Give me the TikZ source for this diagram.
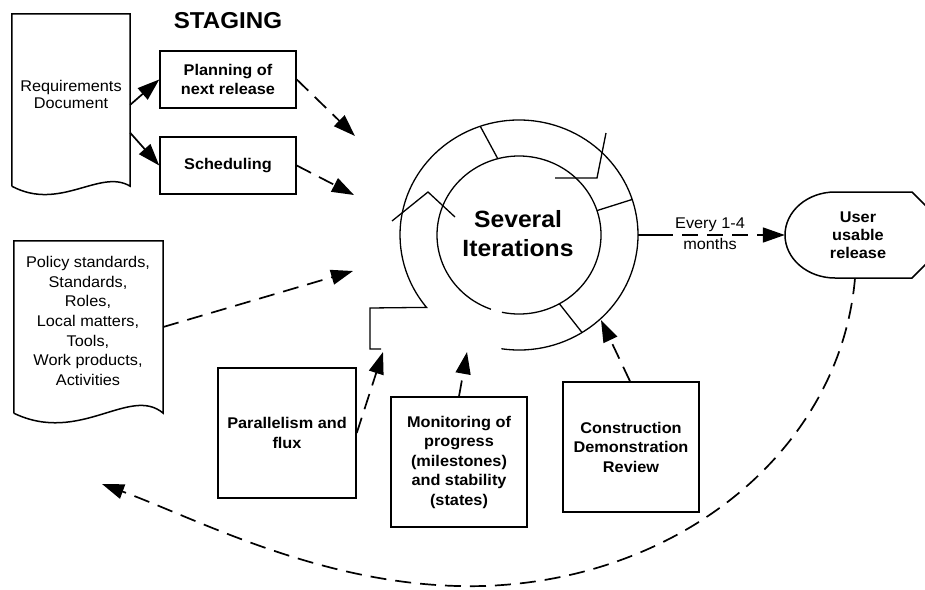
\documentclass[tikz,border=0pt]{standalone}
\usepackage{fontspec}
\setmainfont{Liberation Sans}[FakeStretch=1.05]
\usetikzlibrary{arrows.meta,calc}
\tikzset{
  box/.style={draw, line width=1.5pt, minimum width=136pt, minimum height=57pt, inner sep=0pt, align=center, font=\bfseries\fontsize{15.5}{19.5}\selectfont},
  ghost/.style={inner sep=0pt, draw=none},
  lbl/.style={align=center, inner sep=0pt, font=\fontsize{15.5}{19.5}\selectfont},
  blbl/.style={align=center, inner sep=0pt, font=\bfseries\fontsize{15.5}{18}\selectfont},
  ring/.style={line width=1.3pt},
  outline/.style={line width=1.5pt},
  tip/.style={-{Triangle[length=22pt,width=15pt]}},
  dsh/.style={dash pattern=on 16pt off 9pt},
  conn/.style={line width=1.7pt},
}
\begin{document}
\begin{tikzpicture}[x=1pt,y=-1pt]
\clip (0,0) rectangle (925,589);
\fill[white] (0,0) rectangle (925,589);

% ---- title
\node[font=\bfseries\fontsize{23}{27}\selectfont, inner sep=0pt] (staging) at (228,21) {STAGING};

% ---- requirements document
\node[ghost, minimum width=118pt, minimum height=172pt] (reqs) at (71,100) {};
\draw[outline] (reqs.south west) -- (reqs.north west) -- (reqs.north east) -- (reqs.south east)
  .. controls (100,168) and (60,212) .. (reqs.south west);
\node[lbl, font=\fontsize{15.5}{17}\selectfont] (reqt) at (71,94.5) {Requirements\\Document};

% ---- policy document
\node[ghost, minimum width=149pt, minimum height=172pt] (policy) at (88.5,327) {};
\draw[outline] (policy.south west) -- (policy.north west) -- (policy.north east) -- (policy.south east)
  .. controls (130,385) and (80,445) .. (policy.south west);
\node[lbl, font=\fontsize{15.5}{19.7}\selectfont] (policyt) at (88,321)
  {Policy standards,\\Standards,\\Roles,\\Local matters,\\Tools,\\Work products,\\Activities};

% ---- boxes
\node[box] (plan) at (228,79.5) {Planning of\\next release};
\node[box] (sched) at (228,165.5) {Scheduling};
\node[box, minimum width=138pt, minimum height=130pt] (par) at (287,433) {Parallelism and\\flux};
\node[box, minimum height=130pt] (mon) at (459,462) {Monitoring of\\progress\\(milestones)\\and stability\\(states)};
\node[box, minimum height=130pt] (cons) at (631,447) {Construction\\Demonstration\\Review};

% ---- iteration ring
\coordinate (C) at (519,235);
\draw[ring] ([shift={(98.5:119 and 115)}]C)
  arc[start angle=98.5, end angle=-219, x radius=119, y radius=115]
  -- (370,308) -- (370,349) -- (381,349);
\draw[ring] ([shift={(102:82 and 79)}]C)
  arc[start angle=102, end angle=-250, x radius=82, y radius=79];
\draw[ring] ([shift={(-105:82 and 79)}]C) -- ([shift={(-109:119 and 115)}]C);
\draw[ring] ([shift={(-18:82 and 79)}]C) -- ([shift={(-18:119 and 115)}]C);
\draw[ring] ([shift={(60.5:82 and 79)}]C) -- ([shift={(58:119 and 115)}]C);
\draw[ring] (392,221) -- (428,192) -- (455,217);
\draw[ring] (555,178) -- (597,178) -- (606,133);
\node[font=\bfseries\fontsize{23.5}{29}\selectfont, align=center, inner sep=0pt] (iter) at (518,233.5) {Several\\Iterations};

% ---- user usable release
\node[ghost, minimum width=140pt, minimum height=86pt] (release) at (855,235) {};
\draw[outline] (835,192) -- (912,192) -- (935,215) -- (935,255) -- (912,278) -- (835,278)
  arc[start angle=90, end angle=270, x radius=50, y radius=43] -- cycle;
\node[blbl] (releaset) at (858,235) {User\\usable\\release};

% ---- connector to release
\coordinate (ro) at ([shift={(0:119 and 115)}]C);
\coordinate (rs) at (657,235);
\draw[ring] (ro) -- (rs);
\draw[conn, dsh, tip] (rs) -- (release.west);
\node[lbl, font=\fontsize{15.5}{21}\selectfont] (every) at (710,233.5) {Every 1-4\\months};

% ---- arrow targets
\coordinate (t1) at (355,136);
\coordinate (t2) at (354,195);
\coordinate (t3) at (353,271);
\coordinate (t4) at (383,352);
\coordinate (t5) at (467,352);
\coordinate (t6) at (601,320);
\coordinate (back) at (102,484);

% ---- arrows
\draw[conn, tip] ($(reqs.north east)+(0,91)$) -- (plan.west);
\draw[conn, tip] ($(reqs.north east)+(0,119)$) -- (sched.west);
\draw[conn, dsh, tip] (plan.east) -- (t1);
\draw[conn, dsh, tip] (sched.east) -- (t2);
\draw[conn, dsh, tip] (policy.east) -- (t3);
\draw[conn, dsh, tip] (par.east) -- (t4);
\draw[conn, dsh, tip] (mon.north) -- (t5);
\draw[conn, dsh, tip] ($(cons.north)+(-1,0)$) -- (t6);
\draw[conn, dsh, tip] (release.south) .. controls (840,450) and (680,580) .. (483,586)
  .. controls (330,590) and (200,520) .. (back);
\end{tikzpicture}
\end{document}
